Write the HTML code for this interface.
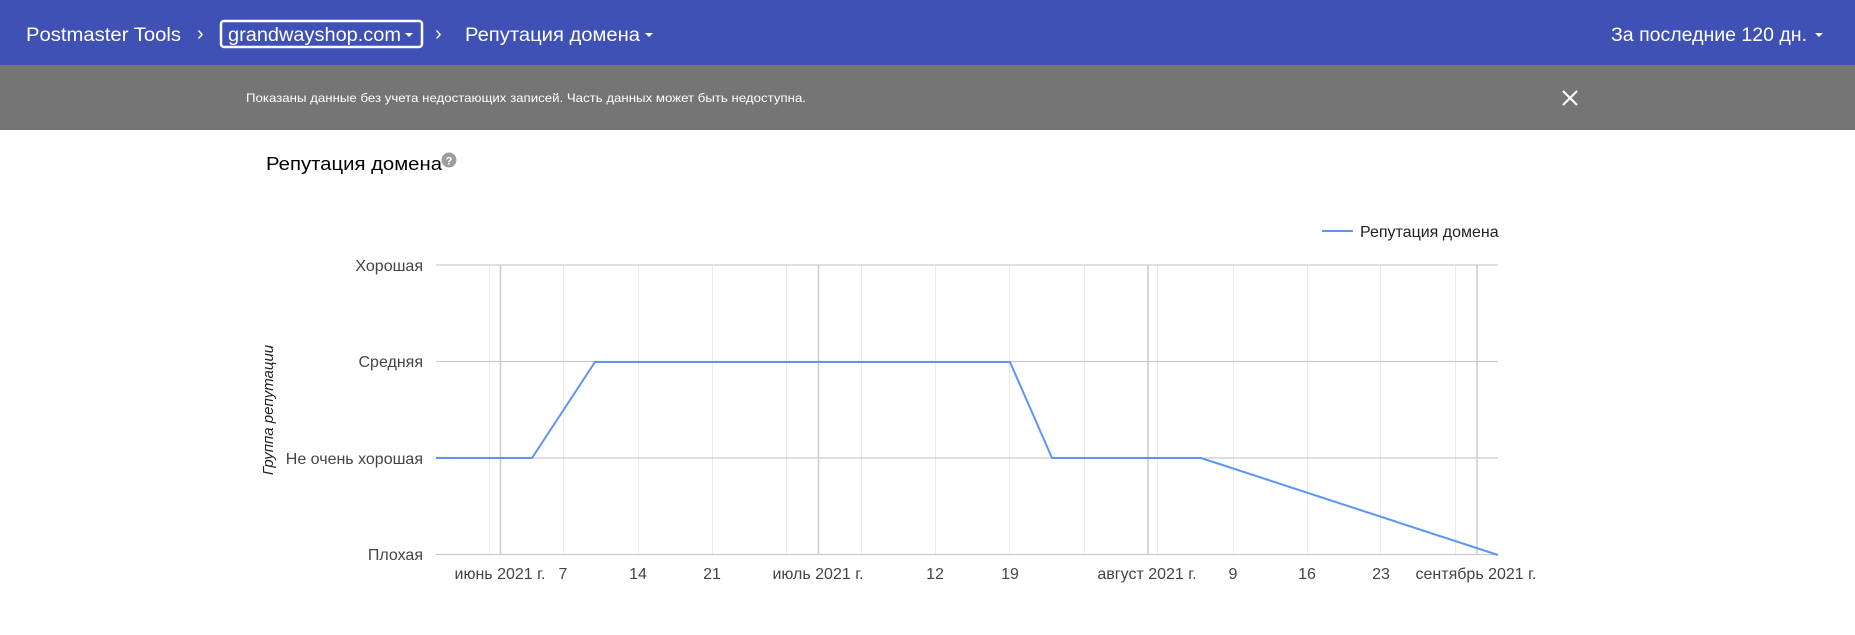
<!DOCTYPE html>
<html><head><meta charset="utf-8"><style>
html,body{margin:0;padding:0;width:1855px;height:635px;overflow:hidden;background:#fff}
svg{display:block}
text{font-family:"Liberation Sans",Arial,sans-serif}
</style></head><body>
<svg width="1855" height="635" xmlns="http://www.w3.org/2000/svg">
<rect x="0" y="0" width="1855" height="65" fill="#3f51b5"/>
<rect x="0" y="65" width="1855" height="65" fill="#757575"/>
<g fill="#fff" font-size="19">
<text x="26" y="41" textLength="155" lengthAdjust="spacingAndGlyphs">Postmaster Tools</text>
<text x="197" y="40" font-size="20">›</text>
<rect x="221" y="21" width="201" height="26" rx="3" fill="none" stroke="#fff" stroke-width="2.5"/>
<text x="228" y="41" textLength="173" lengthAdjust="spacingAndGlyphs">grandwayshop.com</text>
<path d="M405 33 h8 l-4 4z"/>
<text x="435" y="40" font-size="20">›</text>
<text x="465" y="41" textLength="175" lengthAdjust="spacingAndGlyphs">Репутация домена</text>
<path d="M645 33 h8 l-4 4z"/>
<text x="1611" y="41" textLength="196" lengthAdjust="spacingAndGlyphs">За последние 120 дн.</text>
<path d="M1815 33 h8 l-4 4z"/>
<text x="246" y="102" font-size="12" textLength="560" lengthAdjust="spacingAndGlyphs">Показаны данные без учета недостающих записей. Часть данных может быть недоступна.</text>
</g>
<path d="M1563 91 l14 14 M1577 91 l-14 14" stroke="#fff" stroke-width="2"/>
<text x="266" y="170" font-size="18" fill="#000" textLength="176" lengthAdjust="spacingAndGlyphs">Репутация домена</text>
<circle cx="449" cy="160" r="7.5" fill="#9e9e9e"/>
<text x="449" y="164.5" font-size="11" font-weight="bold" fill="#fff" text-anchor="middle">?</text>
<g stroke="#ebebeb" stroke-width="1">
<line x1="489.5" y1="265" x2="489.5" y2="555"/>
<line x1="563.5" y1="265" x2="563.5" y2="555"/>
<line x1="638.5" y1="265" x2="638.5" y2="555"/>
<line x1="712.5" y1="265" x2="712.5" y2="555"/>
<line x1="786.5" y1="265" x2="786.5" y2="555"/>
<line x1="861.5" y1="265" x2="861.5" y2="555"/>
<line x1="935.5" y1="265" x2="935.5" y2="555"/>
<line x1="1009.5" y1="265" x2="1009.5" y2="555"/>
<line x1="1084.5" y1="265" x2="1084.5" y2="555"/>
<line x1="1157.5" y1="265" x2="1157.5" y2="555"/>
<line x1="1233.5" y1="265" x2="1233.5" y2="555"/>
<line x1="1307.5" y1="265" x2="1307.5" y2="555"/>
<line x1="1380.5" y1="265" x2="1380.5" y2="555"/>
<line x1="1455.5" y1="265" x2="1455.5" y2="555"/>
</g>
<g stroke="#cccccc" stroke-width="1.5">
<line x1="500.5" y1="265" x2="500.5" y2="555"/>
<line x1="818.5" y1="265" x2="818.5" y2="555"/>
<line x1="1148" y1="265" x2="1148" y2="555"/>
<line x1="1477" y1="265" x2="1477" y2="555"/>
</g>
<g stroke="#cccccc" stroke-width="1.2">
<line x1="436" y1="265" x2="1498" y2="265"/>
<line x1="436" y1="361.5" x2="1498" y2="361.5"/>
<line x1="436" y1="458" x2="1498" y2="458"/>
<line x1="436" y1="554.5" x2="1498" y2="554.5"/>
</g>
<polyline points="436,458 532,458 595,362 1010,362 1052,458 1201,458 1498,555" fill="none" stroke="#5b95f7" stroke-width="2"/>
<g font-size="16" fill="#444" text-anchor="end">
<text x="423" y="271">Хорошая</text>
<text x="423" y="367">Средняя</text>
<text x="423" y="464">Не очень хорошая</text>
<text x="423" y="560">Плохая</text>
</g>
<text transform="translate(273,410) rotate(-90)" font-size="15" font-style="italic" fill="#222" text-anchor="middle">Группа репутации</text>
<g font-size="16" fill="#444" text-anchor="middle">
<text x="500" y="579">июнь 2021 г.</text>
<text x="563" y="579">7</text>
<text x="638" y="579">14</text>
<text x="712" y="579">21</text>
<text x="818" y="579">июль 2021 г.</text>
<text x="935" y="579">12</text>
<text x="1010" y="579">19</text>
<text x="1147" y="579">август 2021 г.</text>
<text x="1233" y="579">9</text>
<text x="1307" y="579">16</text>
<text x="1381" y="579">23</text>
<text x="1476" y="579">сентябрь 2021 г.</text>
</g>
<line x1="1322" y1="231" x2="1353" y2="231" stroke="#5b95f7" stroke-width="2"/>
<text x="1360" y="237" font-size="16" fill="#222">Репутация домена</text>
</svg>
</body></html>
